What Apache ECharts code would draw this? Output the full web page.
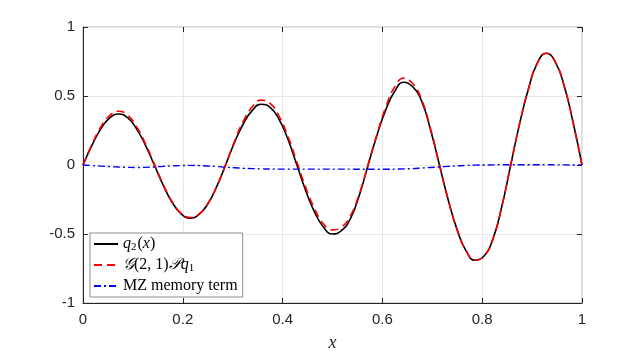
<!DOCTYPE html>
<html>
<head>
<meta charset="utf-8">
<script src="https://cdn.jsdelivr.net/npm/echarts@6/dist/echarts.min.js"></script>
<style>
  html, body { margin: 0; padding: 0; background: #fff; }
  #chart { width: 643px; height: 354px; }
</style>
</head>
<body>
<div id="chart"></div>
<script>
// x samples, step 1/56 (hits every zero and every extremum)
var xs = [0, 0.0179, 0.0357, 0.0536, 0.0714, 0.0893, 0.1071, 0.125, 0.1429,
  0.1607, 0.1786, 0.1964, 0.2143, 0.2321, 0.25, 0.2679, 0.2857,
  0.3036, 0.3214, 0.3393, 0.3571, 0.375, 0.3929, 0.4107, 0.4286,
  0.4464, 0.4643, 0.4821, 0.5, 0.5179, 0.5357, 0.5536, 0.5714,
  0.5893, 0.6071, 0.625, 0.6429, 0.6607, 0.6786, 0.6964, 0.7143,
  0.7321, 0.75, 0.7679, 0.7857, 0.8036, 0.8214, 0.8393, 0.8571,
  0.875, 0.8929, 0.9107, 0.9286, 0.9464, 0.9643, 0.9821, 1];

// q2(x), black solid
var q2 = [0, 0.142, 0.262, 0.342, 0.370, 0.343, 0.264, 0.144, 0,
  -0.146, -0.270, -0.353, -0.385, -0.360, -0.283, -0.157, 0,
  0.163, 0.299, 0.396, 0.440, 0.418, 0.331, 0.186, 0,
  -0.187, -0.343, -0.451, -0.500, -0.476, -0.390, -0.221, 0,
  0.218, 0.403, 0.536, 0.600, 0.567, 0.463, 0.256, 0,
  -0.256, -0.472, -0.624, -0.690, -0.660, -0.537, -0.301, 0,
  0.300, 0.555, 0.740, 0.810, 0.748, 0.573, 0.310, 0];

// G(2,1)P q1, red dashed
var gpq1 = [0, 0.149, 0.276, 0.360, 0.390, 0.362, 0.280, 0.155, 0.008,
  -0.140, -0.266, -0.349, -0.380, -0.356, -0.281, -0.156, 0,
  0.172, 0.318, 0.422, 0.470, 0.447, 0.355, 0.207, 0.022,
  -0.163, -0.318, -0.428, -0.470, -0.451, -0.370, -0.210, 0.004,
  0.225, 0.423, 0.568, 0.630, 0.590, 0.475, 0.265, 0.004,
  -0.254, -0.470, -0.622, -0.690, -0.660, -0.537, -0.301, 0,
  0.300, 0.555, 0.740, 0.810, 0.748, 0.573, 0.310, 0];

// MZ memory term, blue dash-dot
var mz = [0, -0.004, -0.008, -0.012, -0.015, -0.017, -0.018, -0.017, -0.014,
  -0.010, -0.007, -0.004, -0.003, -0.004, -0.007, -0.011, -0.016,
  -0.020, -0.024, -0.026, -0.028, -0.029, -0.030, -0.030, -0.030,
  -0.030, -0.030, -0.030, -0.030, -0.030, -0.030, -0.031, -0.031,
  -0.031, -0.031, -0.030, -0.028, -0.026, -0.022, -0.018, -0.014,
  -0.010, -0.006, -0.003, -0.001, 0, 0.001, 0.002, 0.002,
  0.002, 0.002, 0.002, 0.002, 0.001, 0.001, 0, 0];

var xTicks = [0, 0.2, 0.4, 0.6, 0.8, 1];
var yTicks = [-1, -0.5, 0, 0.5, 1];

function pairs(ys) {
  var out = [];
  for (var i = 0; i < xs.length; i++) out.push([xs[i], ys[i]]);
  return out;
}

var axisColor = '#262626';
var edgeColor = '#b3b3b3';
var tickFont = { fontFamily: 'Liberation Sans', fontSize: 15, color: axisColor };
var inTick = { show: true, inside: true, length: 5, lineStyle: { color: axisColor } };

var chart = echarts.init(document.getElementById('chart'), null, { renderer: 'canvas' });

chart.setOption({
  animation: false,
  backgroundColor: '#fff',
  grid: {
    left: 83, right: 61, top: 27, bottom: 51, containLabel: false, outerBoundsMode: 'none',
    show: true, borderColor: edgeColor, borderWidth: 1
  },
  xAxis: [{
    type: 'value', min: 0, max: 1, interval: 0.2,
    name: 'x', nameLocation: 'middle', nameGap: 31,
    nameTextStyle: { fontFamily: 'Liberation Serif', fontStyle: 'italic', fontSize: 18, color: axisColor },
    axisLine: { show: true, onZero: false, lineStyle: { color: axisColor } },
    axisTick: inTick,
    axisLabel: Object.assign({ margin: 9, formatter: function (v) { return xTicks.indexOf(+v.toFixed(2)) >= 0 ? String(+v.toFixed(2)) : ''; } }, tickFont),
    splitLine: { show: true, lineStyle: { color: '#e8e8e8' } }
  }, {
    type: 'value', min: 0, max: 1, interval: 0.2, position: 'top',
    axisLine: { show: false, onZero: false },
    axisTick: inTick,
    axisLabel: { show: false }, splitLine: { show: false }
  }],
  yAxis: [{
    type: 'value', min: -1, max: 1, interval: 0.5,
    axisLine: { show: true, onZero: false, lineStyle: { color: axisColor } },
    axisTick: inTick,
    axisLabel: Object.assign({ margin: 8, formatter: function (v) { return yTicks.indexOf(v) >= 0 ? String(v) : ''; } }, tickFont),
    splitLine: { show: true, lineStyle: { color: '#e8e8e8' } }
  }, {
    type: 'value', min: -1, max: 1, interval: 0.5, position: 'right',
    axisLine: { show: false, onZero: false },
    axisTick: inTick,
    axisLabel: { show: false }, splitLine: { show: false }
  }],
  legend: {
    orient: 'vertical', left: 90, bottom: 57,
    backgroundColor: '#fff', borderColor: '#8c8c8c', borderWidth: 1, borderRadius: 0,
    padding: [3, 5, 3, 3], itemGap: 4, itemWidth: 24, itemHeight: 14,
    itemStyle: { opacity: 0 },
    textStyle: {
      fontFamily: 'Liberation Serif', fontSize: 16, color: '#000',
      rich: {
        it: { fontFamily: 'Liberation Serif', fontStyle: 'italic', fontSize: 16 },
        sub: { fontFamily: 'Liberation Serif', fontSize: 11, verticalAlign: 'bottom', padding: [7, 1, 0, 0] },
        rm: { fontFamily: 'Liberation Serif', fontSize: 16 }
      }
    },
    formatter: function (name) {
      if (name === 'q2') return '{it|q}{sub|2}{rm|(}{it|x}{rm|)}';
      if (name === 'gpq') return '{it|\uD835\uDCA2}{rm|(2, 1)}{it|\uD835\uDCABq}{sub|1}';
      return '{rm|MZ memory term}';
    },
    data: ['q2', 'gpq', 'mz']
  },
  series: [{
    name: 'q2', type: 'line', smooth: true, symbol: 'none', data: pairs(q2),
    lineStyle: { color: '#000', width: 1.6 }, itemStyle: { color: '#000' }
  }, {
    name: 'gpq', type: 'line', smooth: true, symbol: 'none', data: pairs(gpq1),
    lineStyle: { color: '#ff0000', width: 1.6, type: [8, 5] }, itemStyle: { color: '#ff0000' }
  }, {
    name: 'mz', type: 'line', smooth: true, symbol: 'none', data: pairs(mz),
    lineStyle: { color: '#0000ff', width: 1.4, type: [7, 3, 2, 3] }, itemStyle: { color: '#0000ff' }
  }]
});
</script>
</body>
</html>
